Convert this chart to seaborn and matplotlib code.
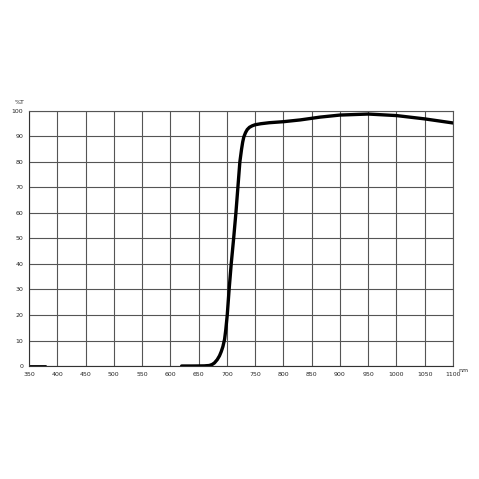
import matplotlib
matplotlib.use("Agg")
import matplotlib.pyplot as plt
import numpy as np
import pandas as pd
import seaborn as sns

# transmission curve (nm, %T)
wavelength = [620, 640, 660, 669, 674, 678, 683, 687, 690, 693, 696, 698, 700.7, 704,
              707.7, 712, 716, 719.5, 723, 726, 728, 730, 733, 736, 740, 745, 750,
              760, 775, 800, 830, 865, 900, 950, 1000, 1050, 1100]
transmission = [0, 0, 0.05, 0.2, 0.6, 1.2, 2.5, 4.0, 5.6, 7.6, 10.5, 14, 20, 30,
                40, 50, 60, 70, 80, 85, 87.8, 89.8, 91.5, 92.7, 93.6, 94.2, 94.6,
                95.0, 95.4, 95.8, 96.5, 97.6, 98.4, 98.8, 98.2, 96.9, 95.3]
# short stub at the left end
stub_nm = [350, 380]
stub_t = [0, 0]

x_ticks = list(range(350, 1101, 50))
y_ticks = list(range(0, 101, 10))

df = pd.DataFrame({"nm": wavelength, "T": transmission})
stub = pd.DataFrame({"nm": stub_nm, "T": stub_t})

sns.set_style("white")
fig = plt.figure(figsize=(4.79, 4.79), dpi=100)
ax = fig.add_axes([0.0605, 0.2359, 0.8852, 0.5324])

sns.lineplot(data=stub, x="nm", y="T", color="black", linewidth=1.3, ax=ax)
sns.lineplot(data=df, x="nm", y="T", color="black", linewidth=2.4, ax=ax)

ax.set_xlim(350, 1100)
ax.set_ylim(0, 100)
ax.set_xticks(x_ticks)
ax.set_yticks(y_ticks)
ax.set_xticklabels([str(v) for v in x_ticks], fontsize=4.5)
ax.set_yticklabels([str(v) for v in y_ticks], fontsize=4.5)
ax.tick_params(length=2, width=0.6, color="#444444", pad=2)
ax.grid(True, color="#555555", linewidth=0.8)
for s in ax.spines.values():
    s.set_color("#555555")
    s.set_linewidth(0.8)
ax.spines["left"].set_color("#333333")
ax.spines["bottom"].set_color("#333333")
ax.set_xlabel("")
ax.set_ylabel("")

ax.text(-0.01, 1.025, "%T", transform=ax.transAxes, fontsize=4.5, ha="right", va="bottom")
ax.text(1.012, -0.016, "nm", transform=ax.transAxes, fontsize=4.5, ha="left", va="center")

fig.savefig("out.png", dpi=100)
